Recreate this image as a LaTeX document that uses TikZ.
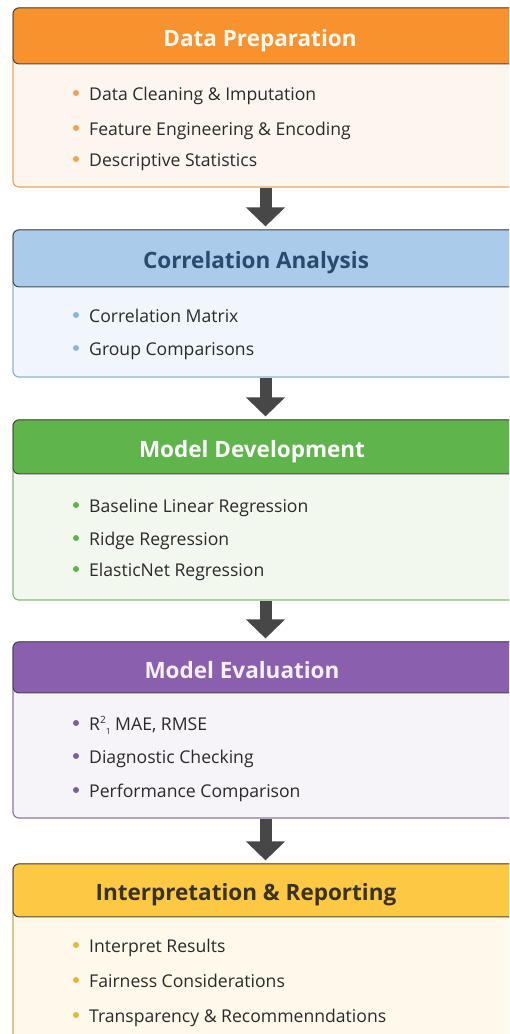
\documentclass[tikz,border=0pt]{standalone}
\usepackage{fontspec}
\setmainfont{Open Sans}
\usetikzlibrary{arrows.meta}
\definecolor{txt}{HTML}{2A2A2A}
\definecolor{arr}{HTML}{474747}
\definecolor{hline}{HTML}{4A4A4A}
\definecolor{oH}{HTML}{F7922E}\definecolor{oB}{HTML}{FDF6EF}\definecolor{oL}{HTML}{E3A66A}\definecolor{oD}{HTML}{F2A054}\definecolor{oT}{HTML}{FFF8EE}
\definecolor{bH}{HTML}{AACBEA}\definecolor{bB}{HTML}{F1F6FC}\definecolor{bL}{HTML}{8FB3D3}\definecolor{bD}{HTML}{86B5DE}\definecolor{bT}{HTML}{2B4A6E}
\definecolor{gH}{HTML}{5FB44C}\definecolor{gB}{HTML}{F2F8ED}\definecolor{gL}{HTML}{86BC76}\definecolor{gD}{HTML}{5DB54A}
\definecolor{pH}{HTML}{8A5FAE}\definecolor{pB}{HTML}{F6F3F9}\definecolor{pL}{HTML}{8E76A8}\definecolor{pD}{HTML}{7E5C9E}\definecolor{pT}{HTML}{F7F0FA}
\definecolor{yH}{HTML}{FDC843}\definecolor{yB}{HTML}{FEF9EB}\definecolor{yL}{HTML}{C9AA5A}\definecolor{yD}{HTML}{E8B534}\definecolor{yT}{HTML}{3A3222}
\begin{document}
\begin{tikzpicture}[x=1pt,y=-1pt,
  bodybox/.style={draw, rounded corners=6pt, line width=1.2pt, minimum width=505pt, inner sep=0pt},
  headbox/.style={draw=hline, rounded corners=6pt, line width=1pt, minimum width=505pt, inner sep=0pt},
  title/.style={anchor=base, font=\bfseries\fontsize{22.5}{25}\selectfont},
  item/.style={anchor=base west, inner sep=0pt, text=txt, font=\fontsize{17.6}{20}\selectfont},
  dot/.style={circle, inner sep=0pt, minimum size=6pt},
  flow/.style={draw=arr, line width=12pt, -{Triangle[width=38pt,length=19pt]}, shorten >=3pt}
]
\useasboundingbox (0,0) rectangle (509,1034);
\clip (0,0) rectangle (509,1034);
\fill[white] (0,0) rectangle (509,1034);

% Stage 1
\node[bodybox, draw=oL, fill=oB, minimum height=179pt] (b1) at (265.5,97.5) {};
\node[headbox, fill=oH, minimum height=56pt, anchor=north] (h1) at (b1.north) {};
\node[title, text=oT] (t1) at (260,46) {Data Preparation};
\node[dot, fill=oD] (d11) at (76,93) {};
\node[item] (i11) at (89,100) {Data Cleaning \& Imputation};
\node[dot, fill=oD] (d12) at (76,128) {};
\node[item] (i12) at (89,135) {Feature Engineering \& Encoding};
\node[dot, fill=oD] (d13) at (76,159) {};
\node[item] (i13) at (89,166) {Descriptive Statistics};

% Stage 2
\node[bodybox, draw=bL, fill=bB, minimum height=147pt] (b2) at (265.5,303.5) {};
\node[headbox, fill=bH, minimum height=57pt, anchor=north] (h2) at (b2.north) {};
\node[title, text=bT] (t2) at (256,268) {Correlation Analysis};
\node[dot, fill=bD] (d21) at (76,315) {};
\node[item] (i21) at (89,322) {Correlation Matrix};
\node[dot, fill=bD] (d22) at (76,348) {};
\node[item] (i22) at (89,355) {Group Comparisons};

% Stage 3
\node[bodybox, draw=gL, fill=gB, minimum height=180pt] (b3) at (265.5,510) {};
\node[headbox, fill=gH, minimum height=54pt, anchor=north] (h3) at (b3.north) {};
\node[title, text=white] (t3) at (252,457) {Model Development};
\node[dot, fill=gD] (d31) at (76,505) {};
\node[item] (i31) at (89,512) {Baseline Linear Regression};
\node[dot, fill=gD] (d32) at (76,538) {};
\node[item] (i32) at (89,545) {Ridge Regression};
\node[dot, fill=gD] (d33) at (76,569) {};
\node[item] (i33) at (89,576) {ElasticNet Regression};

% Stage 4
\node[bodybox, draw=pL, fill=pB, minimum height=176pt] (b4) at (265.5,730) {};
\node[headbox, fill=pH, minimum height=51pt, anchor=north] (h4) at (b4.north) {};
\node[title, text=pT] (t4) at (242,678) {Model Evaluation};
\node[dot, fill=pD] (d41) at (76,723) {};
\node[item] (i41) at (89,730) {R\raisebox{7pt}{\fontsize{10}{11}\selectfont 2}\raisebox{-4pt}{\fontsize{8.5}{9}\selectfont 1} MAE, RMSE};
\node[dot, fill=pD] (d42) at (76,756) {};
\node[item] (i42) at (89,763) {Diagnostic Checking};
\node[dot, fill=pD] (d43) at (76,790) {};
\node[item] (i43) at (89,797) {Performance Comparison};

% Stage 5
\node[bodybox, draw=yL, fill=yB, minimum height=186pt] (b5) at (265.5,957) {};
\node[headbox, fill=yH, minimum height=53pt, anchor=north] (h5) at (b5.north) {};
\node[title, text=yT] (t5) at (246,900) {Interpretation \& Reporting};
\node[dot, fill=yD] (d51) at (76,945) {};
\node[item] (i51) at (89,952) {Interpret Results};
\node[dot, fill=yD] (d52) at (76,980) {};
\node[item] (i52) at (89,987) {Fairness Considerations};
\node[dot, fill=yD] (d53) at (76,1015) {};
\node[item] (i53) at (89,1022) {Transparency \& Recommenndations};

% Arrows
\draw[flow] (b1.south) -- (h2.north);
\draw[flow] (b2.south) -- (h3.north);
\draw[flow] (b3.south) -- (h4.north);
\draw[flow] (b4.south) -- (h5.north);
\end{tikzpicture}
\end{document}
